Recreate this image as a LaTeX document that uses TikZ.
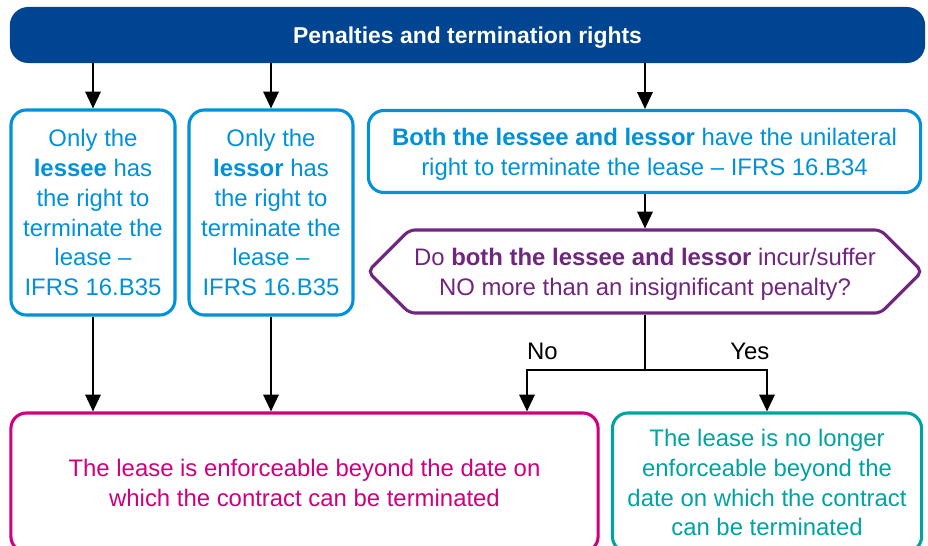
\documentclass[tikz,border=0pt]{standalone}
\usepackage{fontspec}
\setmainfont{Liberation Sans}
\usepackage{xcolor}
\usetikzlibrary{positioning,arrows.meta,shapes.geometric,shapes.symbols}
\definecolor{kblue}{RGB}{0,69,145}
\definecolor{kcyan}{RGB}{0,145,218}
\definecolor{kpurple}{RGB}{112,38,126}
\definecolor{kpink}{RGB}{206,0,126}
\definecolor{kteal}{RGB}{0,163,161}
\tikzset{
>={Triangle[length=12pt,width=11pt]},
  myarrow/.style={draw, line width=1.3pt, ->},
  myline/.style={draw, line width=1.3pt},
}

\begin{document}
\begin{tikzpicture}[x=0.025cm, y=-0.025cm]
  \tikzset{
      every node/.style={font=\fontsize{17}{21.3}\selectfont, align=center, inner sep=0pt},
      title/.style={rectangle, rounded corners=13pt, fill=kblue, text=white, font=\fontsize{16.3}{20}\selectfont\bfseries, text depth=0pt, minimum width=22.875cm, minimum height=1.4cm},
      action/.style={rectangle, rounded corners=11pt, draw=kcyan, text=kcyan, line width=2.2pt},
      condition/.style={signal, signal to=east and west, draw=kpurple, text=kpurple, line width=2.2pt, rounded corners=4pt, text depth=-6pt, minimum width=13.85cm, minimum height=2.075cm},
      outcome/.style={rectangle, rounded corners=11pt, line width=2.2pt, minimum height=3.475cm},
  }
  \useasboundingbox (0,0) rectangle (928,546);
  \clip (0,0) rectangle (928,546);

  \node[title] (item1) at (467.5,35) {Penalties and termination rights};

  \node[action, minimum width=4.1cm, minimum height=5.125cm] (item2) at (93,212.5)
    {Only the\\\textbf{lessee} has\\the right to\\terminate the\\lease --\\IFRS 16.B35};
  \node[action, minimum width=4.1cm, minimum height=5.125cm] (item3) at (271,212.5)
    {Only the\\\textbf{lessor} has\\the right to\\terminate the\\lease --\\IFRS 16.B35};
  \node[action, minimum width=13.8cm, minimum height=2.05cm, text depth=0pt] (item4) at (644.5,151.5)
    {\textbf{Both the lessee and lessor} have the unilateral\\right to terminate the lease -- IFRS 16.B34};

  \node[condition] (item5) at (645,271.5)
    {Do \textbf{both the lessee and lessor} incur/suffer\\NO more than an insignificant penalty?};

  \node[outcome, draw=kpink, text=kpink, minimum width=14.675cm] (item6) at (304.5,482.5)
    {The lease is enforceable beyond the date on\\which the contract can be terminated};
  \node[outcome, draw=kteal, text=kteal, minimum width=7.725cm] (item7) at (767,482.5)
    {The lease is no longer\\enforceable beyond the\\date on which the contract\\can be terminated};

  \coordinate (AuxNode01) at (645,370);
  \coordinate (AuxNode02) at (527,370);

  \path[myarrow] (item1.south -| item2.north) -- (item2.north);
  \path[myarrow] (item1.south -| item3.north) -- (item3.north);
  \path[myarrow] (item1.south -| item5.north) -- (item4.north -| item5.north);
  \path[myarrow] (item4.south -| item5.north) -- (item5.north);
  \path[myarrow] (item2.south) -- (item2.south |- item6.north);
  \path[myarrow] (item3.south) -- (item3.south |- item6.north);
  \path[myline] (item5.south) -- (AuxNode01);
  \path[myarrow] (AuxNode01) -- node [pos=0.87, above=7pt] {No} (AuxNode02) -- (AuxNode02 |- item6.north);
  \path[myarrow] (AuxNode01) -| node [pos=0.43, above=7pt] {Yes} (item7.north);

\end{tikzpicture}
\end{document}
